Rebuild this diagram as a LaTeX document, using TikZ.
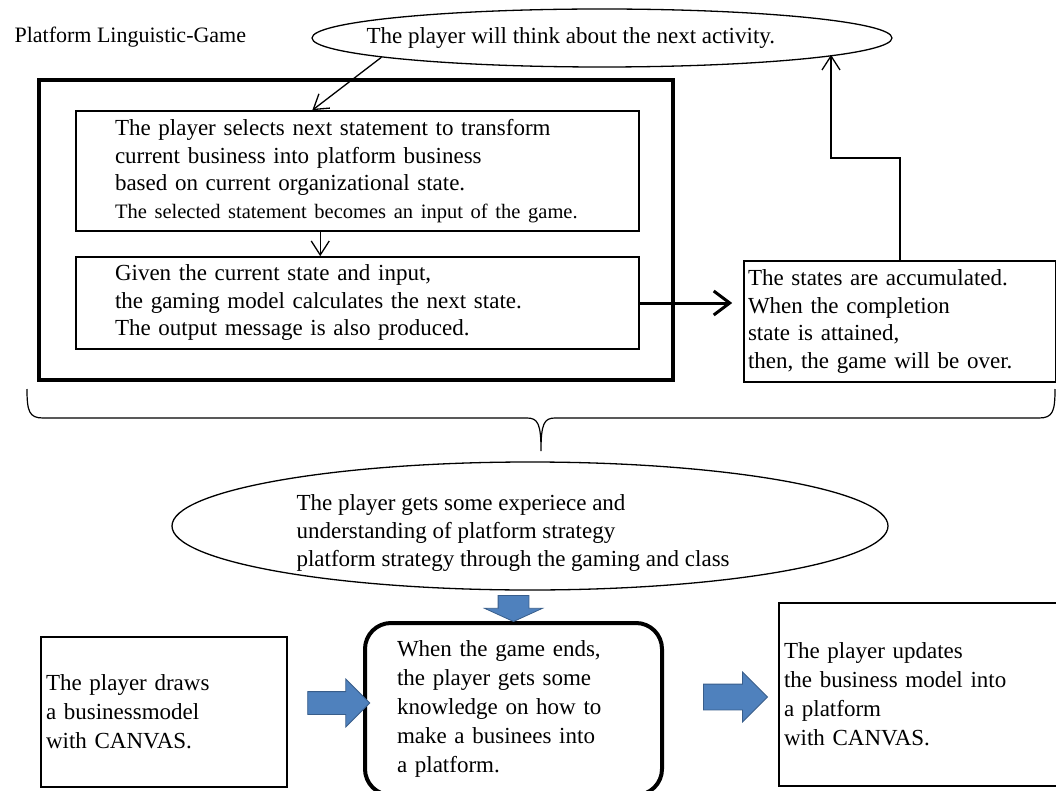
\documentclass[tikz,border=0pt]{standalone}
\usepackage{fontspec}
\setmainfont{Liberation Serif}
\usetikzlibrary{arrows.meta,shapes.geometric,shapes.arrows,calc}

\definecolor{arrowblue}{RGB}{79,129,189}
\definecolor{arrowedge}{RGB}{56,93,138}

\newcommand\titlefont{\fontsize{22}{26}\selectfont}
\newcommand\boxfont{\fontsize{23}{27.5}\selectfont}
\newcommand\lowfont{\fontsize{23}{29}\selectfont}
\newcommand\notefont{\fontsize{20.5}{24}\selectfont}

\tikzset{
  panel/.style={draw, line width=1.6pt, align=left, inner ysep=0pt},
  bubble/.style={draw, ellipse, line width=1.3pt, inner sep=0pt},
  thin arrow/.style={-{Straight Barb[length=14pt,width=18pt]}, line width=1.3pt},
  bold arrow/.style={-{Straight Barb[length=16pt,width=24pt]}, line width=3pt},
  blue arrow/.style={single arrow, fill=arrowblue, draw=arrowedge, line width=0.8pt,
                     inner xsep=0pt, inner ysep=#1},
}

\begin{document}
\begin{tikzpicture}[x=1pt, y=-1pt]
  \useasboundingbox (0,0) rectangle (1056,791);

  % the player thinks
  \node [anchor=base west, font=\titlefont] (title) at (11,43) {Platform Linguistic-Game};
  \node [bubble, minimum width=580pt, minimum height=58pt] (think) at (602,38) {};
  \node [anchor=base west, font=\boxfont] (thinktext) at (363,44)
    {The player will think about the next activity.};

  % one turn of the game
  \node [panel, line width=4pt, minimum width=634pt, minimum height=300pt] (game) at (356,230) {};
  \node [panel, font=\boxfont, minimum height=120pt, inner xsep=39pt, text width=485pt]
    (select) at (357.5,171) {The player selects next statement to transform\\
    current business into platform business\\
    based on current organizational state.\\
    {\notefont The selected statement becomes an input of the game.}};
  \node [panel, font=\boxfont, minimum height=92pt, inner xsep=39pt, text width=485pt]
    (calc) at (357.5,303) {Given the current state and input,\\
    the gaming model calculates the next state.\\
    The output message is also produced.};
  \node [panel, font=\boxfont, minimum height=121pt, inner xsep=4pt, text width=304pt]
    (states) at (900,321.5) {The states are accumulated.\\
    When the completion\\
    state is attained,\\
    then, the game will be over.};

  \coordinate (turn) at (831,158);

  \draw [thin arrow] (think.185.7) -- ($(select.north west)!0.42!(select.north east)$);
  \draw [thin arrow] ($(select.south west)!0.434!(select.south east)$) coordinate (down)
    -- (down |- calc.north);
  \draw [bold arrow, shorten >=11pt] (calc.east) -- (calc.east -| states.west);
  \draw [thin arrow] (states.north) |- (turn) -- (turn |- think.-4.4);

  % brace over the whole game
  \draw [line width=1.2pt] (27,389) .. controls (27,411) and (29,418) .. (43,418)
    -- (527,418) .. controls (538,418) and (541,424) .. (541,451)
    .. controls (541,424) and (544,418) .. (555,418)
    -- (1039,418) .. controls (1053,418) and (1055,411) .. (1055,389);

  % what the player learns
  \node [bubble, minimum width=716pt, minimum height=128pt] (learn) at (530,526) {};
  \node [anchor=west, align=left, font=\fontsize{23}{28}\selectfont] (learntext) at (293,533)
    {The player gets some experiece and\\
    understanding of platform strategy\\
    platform strategy through the gaming and class};

  \node [panel, font=\lowfont, minimum width=246pt, minimum height=150pt, inner xsep=5pt,
    text width=236pt] (canvas) at (164,712) {The player draws\\
    a businessmodel\\
    with CANVAS.};
  \node [panel, font=\lowfont, line width=4pt, rounded corners=26pt, minimum height=172pt,
    inner xsep=32pt, text width=233pt] (know) at (513.5,709) {When the game ends,\\
    the player gets some\\
    knowledge on how to\\
    make a businees into\\
    a platform.};
  \node [panel, font=\lowfont, minimum height=183pt, inner xsep=5pt, text width=271pt]
    (update) at (919.5,694.5) {The player updates\\
    the business model into\\
    a platform\\
    with CANVAS.};

  \node [blue arrow=15pt, rotate=-90, minimum height=26pt, minimum width=57pt,
    single arrow head extend=13.5pt, single arrow tip angle=131] (tolearn) at (513.5,605) {};
  \node [blue arrow=11pt, minimum height=62pt, minimum width=47pt,
    single arrow head extend=12.5pt] (toknow) at (333,703) {};
  \node [blue arrow=12.5pt, minimum height=64pt, minimum width=49pt,
    single arrow head extend=12pt] (toupdate) at (729,697) {};
\end{tikzpicture}
\end{document}
